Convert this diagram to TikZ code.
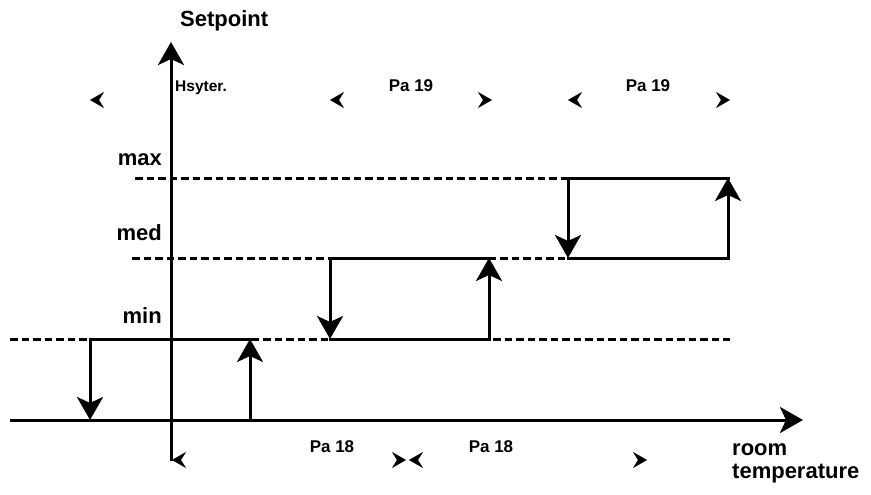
\documentclass[tikz,border=0pt]{standalone}
\usepackage{fontspec}
\setmainfont{Liberation Sans}
\definecolor{hyink}{HTML}{000000}
\usetikzlibrary{arrows.meta, positioning}
\tikzset{
	bigtip/.tip={Stealth[length=23pt, width=26pt, inset=6pt]},
	smalltip/.tip={Stealth[length=14pt, width=16pt, inset=5pt, hyink]},
	axisarr/.style={-bigtip, line width=3pt, draw=hyink},
	hystline/.style={line width=3pt, line cap=rect, draw=hyink},
	hystarr/.style={-bigtip, line width=3pt, draw=hyink},
	levelline/.style={line width=3pt, dash pattern=on 7.5pt off 4pt, draw=hyink},
	dimline/.style={draw=white, line width=0.4pt},
	lbl/.style={font=\bfseries\fontsize{22}{26}\selectfont, inner sep=0pt, text=hyink},
	dimlbl/.style={font=\bfseries\fontsize{17}{20}\selectfont, inner sep=0pt, text=hyink}
}

\begin{document}
\begin{tikzpicture}[x=1pt, y=-1pt]
	\useasboundingbox (0,0) rectangle (871,495);

	% corners of the three loops
	\coordinate (b1tl) at (90,339);  \coordinate (b1tr) at (250,339);
	\coordinate (b1bl) at (90,420);  \coordinate (b1br) at (250,420);
	\coordinate (b2tl) at (330,258); \coordinate (b2tr) at (489,258);
	\coordinate (b2bl) at (330,339); \coordinate (b2br) at (489,339);
	\coordinate (b3tl) at (568,178); \coordinate (b3tr) at (728,178);
	\coordinate (b3bl) at (568,258); \coordinate (b3br) at (728,258);

	% dimension ends
	\coordinate (hysL) at (90,100);  \coordinate (hysR) at (171,100);
	\coordinate (pnL) at (330,100);  \coordinate (pnR) at (492,100);
	\coordinate (pmL) at (568,100);  \coordinate (pmR) at (730,100);
	\coordinate (peL) at (172,460);  \coordinate (peR) at (406,460);
	\coordinate (pfL) at (409,460);  \coordinate (pfR) at (647,460);

	\draw[dimline, smalltip-] (hysL) -- (hysR);
	\draw[dimline, smalltip-smalltip] (pnL) -- (pnR);
	\draw[dimline, smalltip-smalltip] (pmL) -- (pmR);
	\draw[dimline, smalltip-smalltip] (peL) -- (peR);
	\draw[dimline, smalltip-smalltip] (pfL) -- (pfR);

	% set point levels
	\coordinate (maxL) at (135,178);
	\coordinate (medL) at (132,258);
	\coordinate (minL) at (10,339);
	\coordinate (minR) at (730,339);
	\draw[levelline] (maxL) -- (b3tl);
	\draw[levelline] (medL) -- (b3bl);
	\draw[levelline] (minL) -- (minR);

	% axes
	\coordinate (yfoot) at (171,461); \coordinate (ytip) at (171,42);
	\coordinate (xfoot) at (10,420);  \coordinate (xtip) at (803,420);
	\draw[axisarr] (yfoot) -- (ytip);
	\draw[axisarr] (xfoot) -- (xtip);

	% loops
	\foreach \b in {b1,b2,b3} {
		\draw[hystline] (\b tl) -- (\b tr);
		\draw[hystline] (\b bl) -- (\b br);
		\draw[hystarr] (\b tl) -- (\b bl);
		\draw[hystarr] (\b br) -- (\b tr);
	}

	% labels
	\node[lbl, anchor=base west] (setp) at (180,27) {Setpoint};
	\node[lbl, anchor=base east] (maxt) at (162,165) {max};
	\node[lbl, anchor=base east] (medt) at (162,240) {med};
	\node[lbl, anchor=base east] (mint) at (162,323) {min};
	\node[lbl, anchor=base west] (room) at (732,455) {room};
	\node[lbl, anchor=base west] (temp) at ([yshift=-23pt]room.base west) {temperature};
	\node[dimlbl, font=\bfseries\fontsize{15.5}{18}\selectfont, anchor=base west] (hyst) at (175,92) {Hsyter.};
	\node[dimlbl, anchor=base] (pa19a) at (411,92) {Pa 19};
	\node[dimlbl, anchor=base] (pa19b) at (648,92) {Pa 19};
	\node[dimlbl, anchor=base] (pa18a) at (332,452) {Pa 18};
	\node[dimlbl, anchor=base] (pa18b) at (491,452) {Pa 18};
\end{tikzpicture}
\end{document}
